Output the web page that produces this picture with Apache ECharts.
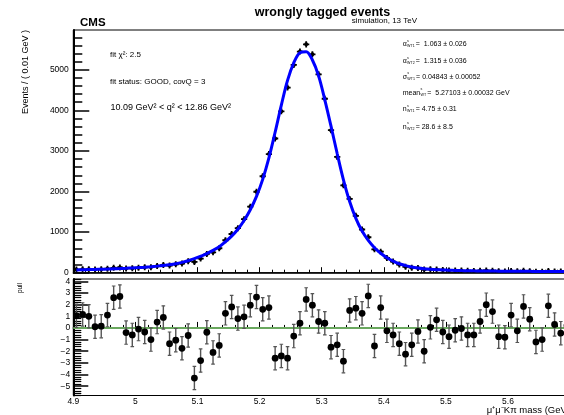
<!DOCTYPE html>
<html><head><meta charset="utf-8">
<script src="https://cdn.jsdelivr.net/npm/echarts@6/dist/echarts.min.js"></script>
<style>html,body{margin:0;padding:0;background:#fff}#c{width:564px;height:415px}</style>
</head><body><div id="c"></div>
<script>
// ---- data ----
const binCenters = [
 4.905,4.915,4.925,4.935,4.945,4.955,4.965,4.975,4.985,4.995,
 5.005,5.015,5.025,5.035,5.045,5.055,5.065,5.075,5.085,5.095,
 5.105,5.115,5.125,5.135,5.145,5.155,5.165,5.175,5.185,5.195,
 5.205,5.215,5.225,5.235,5.245,5.255,5.265,5.275,5.285,5.295,
 5.305,5.315,5.325,5.335,5.345,5.355,5.365,5.375,5.385,5.395,
 5.405,5.415,5.425,5.435,5.445,5.455,5.465,5.475,5.485,5.495,
 5.505,5.515,5.525,5.535,5.545,5.555,5.565,5.575,5.585,5.595,
 5.605,5.615,5.625,5.635,5.645,5.655,5.665,5.675,5.685,5.695];
const counts = [
 77,82,85,81,86,100,121,129,105,110,
 125,132,136,168,190,178,206,227,284,265,
 349,462,501,602,800,954,1096,1319,1627,1995,
 2377,2923,3307,3976,4561,5120,5449,5626,5381,4888,
 4286,3511,2852,2154,1818,1402,1065,873,577,518,
 365,275,200,145,123,113,78,85,81,64,
 55,55,52,45,42,48,55,49,33,32,
 43,34,45,37,25,25,40,32,27,29];
const fitValues = [
 68,72,76,80,85,90,96,102,109,117,
 126,136,148,162,178,197,222,255,295,345,
 405,470,550,640,765,900,1070,1285,1550,1880,
 2300,2830,3460,4130,4740,5170,5420,5445,5240,4850,
 4260,3610,2930,2290,1755,1340,1025,795,615,480,
 370,285,220,175,140,116,98,85,75,67,
 61,56,52,49,46,44,42,40,38,37,
 36,35,34,33,32,31,30,30,29,28];
const pulls = [
 1.05,1.16,1.0,0.1,0.15,1.1,2.6,2.7,-0.4,-0.6,
 -0.1,-0.35,-1.0,0.5,0.9,-1.35,-1.05,-1.75,-0.65,-4.3,
 -2.8,-0.37,-2.1,-1.5,1.25,1.8,0.8,0.95,1.95,2.65,
 1.6,1.75,-2.6,-2.4,-2.6,-0.7,0.4,2.45,1.95,0.55,
 0.4,-1.65,-1.45,-2.85,1.5,1.7,1.25,2.75,-1.55,1.75,
 -0.25,-0.6,-1.35,-2.25,-1.45,-0.3,-2.0,0.05,0.7,-0.35,
 -0.75,-0.2,-0.05,-0.6,-0.6,0.55,2.0,1.4,-0.75,-0.8,
 1.1,-0.25,1.85,0.75,-1.2,-1.0,1.9,0.3,-0.45,0.2];
const xTickLabels = [4.9,5.0,5.1,5.2,5.3,5.4,5.5,5.6,5.7];
const yTickLabelsTop = [0,1000,2000,3000,4000,5000];
const yTickLabelsPull = [-5,-4,-3,-2,-1,0,1,2,3,4];
const binWidth = 0.01;

// minor tick positions
const xMinor = []; for (let k = 0; k <= 40; k++) { const v = Math.round((4.9 + 0.02*k)*1000)/1000; if (k % 5) xMinor.push(v); }
const yMinorTop = []; for (let v = 200; v < 5980; v += 200) if (v % 1000) yMinorTop.push(v);
const yMinorPull = []; for (let k = -29; k <= 21; k++) { if (k % 5) yMinorPull.push(Math.round(k*0.2*10)/10); }

const FONT = '"Liberation Sans", Arial, Helvetica, sans-serif';
const mctx = document.createElement('canvas').getContext('2d');
function tw(s, size){ mctx.font = size + 'px ' + FONT; return mctx.measureText(s).width; }

const chart = echarts.init(document.getElementById('c'), null, {renderer:'canvas'});

const GL = 73.3, GW = 496.8;
function majorAxis(extra){ return Object.assign({
  type:'value', splitLine:{show:false},
  axisLine:{show:true, lineStyle:{color:'#000', width:1.5}},
}, extra); }

const topData = binCenters.map((x,i)=>[x, counts[i]]);
const fitData = binCenters.map((x,i)=>[x, fitValues[i]]);
const pullData = binCenters.map((x,i)=>[x, pulls[i]]);

// parameter box texts
const params = [
 {base:'\u03b1', sub:'WT1', rest:'=  1.063 \u00b1 0.026', y:44.3},
 {base:'\u03b1', sub:'WT2', rest:'=  1.315 \u00b1 0.036', y:61},
 {base:'\u03c3', sub:'WT1', rest:'= 0.04843 \u00b1 0.00052', y:76.7},
 {base:'mean', sub:'WT', rest:'=  5.27103 \u00b1 0.00032 GeV', y:92.7},
 {base:'n', sub:'WT1', rest:'= 4.75 \u00b1 0.31', y:109.3},
 {base:'n', sub:'WT2', rest:'= 28.6 \u00b1 8.5', y:126.7}
];
const graphics = [];
function txt(x, y, text, size, opts){
  opts = opts || {};
  return Object.assign({type:'text', x:x, y:y, silent:true, style:{
    text:text, fontSize:size, fontFamily:FONT, fontWeight:opts.bold?'bold':'normal',
    fill:opts.fill||'#000', align:opts.align||'left', textAlign:opts.align||'left',
    verticalAlign:'middle', textVerticalAlign:'middle'}}, opts.extra||{});
}
params.forEach(p=>{
  const x0 = 402.7, fs = 7, ss = 3.6;
  graphics.push(txt(x0, p.y, p.base, fs));
  const xs = x0 + tw(p.base, fs) + 0.3;
  graphics.push(txt(xs, p.y - 3.3, 's', ss));
  graphics.push(txt(xs, p.y + 1.8, p.sub, ss));
  const xr = xs + Math.max(tw('s', ss), tw(p.sub, ss)) + 1.2;
  graphics.push(txt(xr, p.y, p.rest, fs));
});
graphics.push(txt(322.5, 12.5, 'wrongly tagged events', 12.5, {bold:true, align:'center'}));
graphics.push(txt(351.7, 20.5, 'simulation, 13 TeV', 8));
graphics.push(txt(80, 23, 'CMS', 11.5, {bold:true}));
graphics.push(txt(110, 55, 'fit \u03c7\u00b2: 2.5', 8));
graphics.push(txt(110, 82, 'fit status: GOOD, covQ = 3', 8));
graphics.push(txt(110.5, 108, '10.09 GeV\u00b2 < q\u00b2 < 12.86 GeV\u00b2', 9));
graphics.push(txt(26, 30, 'Events / ( 0.01 GeV )', 9, {align:'right', extra:{rotation:Math.PI/2}}));
graphics.push(txt(20.5, 283, 'pull', 6.5, {align:'right', extra:{rotation:Math.PI/2}}));
graphics.push(txt(570, 410.5, '\u03bc\u207a\u03bc\u207bK\u03c0 mass (GeV)', 9.5, {align:'right'}));

const option = {
  animation:false,
  backgroundColor:'#fff',
  grid:[
    {left:GL, top:30, width:GW, height:242.7, show:true, borderColor:'#000', borderWidth:1, backgroundColor:'transparent', outerBoundsMode:'none', containLabel:false},
    {left:GL, top:279, width:GW, height:116.5, show:true, borderColor:'#000', borderWidth:1, backgroundColor:'transparent', outerBoundsMode:'none', containLabel:false}
  ],
  xAxis:[
    majorAxis({gridIndex:0, position:'bottom', min:4.9, max:5.7,
      axisTick:{show:true, inside:true, length:5.5, customValues:xTickLabels, lineStyle:{color:'#000', width:1}},
      axisLabel:{show:false}}),
    majorAxis({gridIndex:0, position:'bottom', min:4.9, max:5.7, axisLine:{show:false},
      axisTick:{show:true, inside:true, length:3, customValues:xMinor, lineStyle:{color:'#000', width:1}},
      axisLabel:{show:false}}),
    majorAxis({gridIndex:1, position:'bottom', min:4.9, max:5.7,
      axisTick:{show:true, inside:true, length:6, customValues:xTickLabels, lineStyle:{color:'#000', width:1}},
      axisLabel:{show:true, customValues:xTickLabels, fontSize:8.5, fontFamily:FONT, color:'#000', margin:1.5,
        formatter:v=>String(Math.round(v*10)/10)}}),
    majorAxis({gridIndex:1, position:'bottom', min:4.9, max:5.7, axisLine:{show:false},
      axisTick:{show:true, inside:true, length:3, customValues:xMinor, lineStyle:{color:'#000', width:1}},
      axisLabel:{show:false}})
  ],
  yAxis:[
    majorAxis({gridIndex:0, position:'left', min:0, max:5980,
      axisLine:{show:true, lineStyle:{color:'#000', width:2}},
      axisTick:{show:true, inside:true, length:16, customValues:yTickLabelsTop, lineStyle:{color:'#000', width:1.5}},
      axisLabel:{show:true, customValues:yTickLabelsTop, fontSize:8.5, fontFamily:FONT, color:'#000', margin:4.5,
        formatter:v=>String(v)}}),
    majorAxis({gridIndex:0, position:'left', min:0, max:5980, axisLine:{show:false},
      axisTick:{show:true, inside:true, length:9, customValues:yMinorTop, lineStyle:{color:'#000', width:1.5}},
      axisLabel:{show:false}}),
    majorAxis({gridIndex:1, position:'left', min:-5.8, max:4.2,
      axisLine:{show:true, lineStyle:{color:'#000', width:2}},
      axisTick:{show:true, inside:true, length:15, customValues:yTickLabelsPull, lineStyle:{color:'#000', width:1.5}},
      axisLabel:{show:true, customValues:yTickLabelsPull, fontSize:8.5, fontFamily:FONT, color:'#000', margin:3,
        formatter:v=>(v<0?'\u2212'+Math.abs(v):String(v))}}),
    majorAxis({gridIndex:1, position:'left', min:-5.8, max:4.2, axisLine:{show:false},
      axisTick:{show:true, inside:true, length:8, customValues:yMinorPull, lineStyle:{color:'#000', width:1.2}},
      axisLabel:{show:false}})
  ],
  graphic: graphics,
  series:[
    {type:'custom', xAxisIndex:0, yAxisIndex:0, data:topData, z:3, clip:true,
      renderItem:(params, api)=>{
        const x = api.value(0), y = api.value(1), e = Math.sqrt(y);
        const p = api.coord([x, y]);
        const l = api.coord([x - binWidth/2, y]), r = api.coord([x + binWidth/2, y]);
        const t = api.coord([x, y + e]), b = api.coord([x, y - e]);
        return {type:'group', children:[
          {type:'line', shape:{x1:l[0], y1:p[1], x2:r[0], y2:p[1]}, style:{stroke:'#000', lineWidth:1.8}},
          {type:'line', shape:{x1:p[0], y1:Math.min(t[1], p[1]-3), x2:p[0], y2:Math.max(b[1], p[1]+3)}, style:{stroke:'#000', lineWidth:1.8}},
          {type:'circle', shape:{cx:p[0], cy:p[1], r:2}, style:{fill:'#000'}}
        ]};
      }},
    {type:'line', xAxisIndex:0, yAxisIndex:0, data:fitData, z:4, smooth:0.35, symbol:'none',
      lineStyle:{color:'#0000ff', width:3}},
    {type:'line', xAxisIndex:2, yAxisIndex:2, data:[[4.9,0],[5.7,0]], z:2, symbol:'none', silent:true,
      lineStyle:{color:'#6aa85f', width:2}},
    {type:'custom', xAxisIndex:2, yAxisIndex:2, data:pullData, z:3, clip:true,
      renderItem:(params, api)=>{
        const x = api.value(0), v = api.value(1);
        const p = api.coord([x, v]), t = api.coord([x, v + 1]), b = api.coord([x, v - 1]);
        return {type:'group', children:[
          {type:'line', shape:{x1:p[0], y1:t[1], x2:p[0], y2:b[1]}, style:{stroke:'#555', lineWidth:1.4}},
          {type:'line', shape:{x1:p[0]-1.8, y1:t[1], x2:p[0]+1.8, y2:t[1]}, style:{stroke:'#555', lineWidth:1.2}},
          {type:'line', shape:{x1:p[0]-1.8, y1:b[1], x2:p[0]+1.8, y2:b[1]}, style:{stroke:'#555', lineWidth:1.2}},
          {type:'circle', shape:{cx:p[0], cy:p[1], r:3.4}, style:{fill:'#000'}}
        ]};
      }}
  ]
};
chart.setOption(option);
</script>
</body></html>
